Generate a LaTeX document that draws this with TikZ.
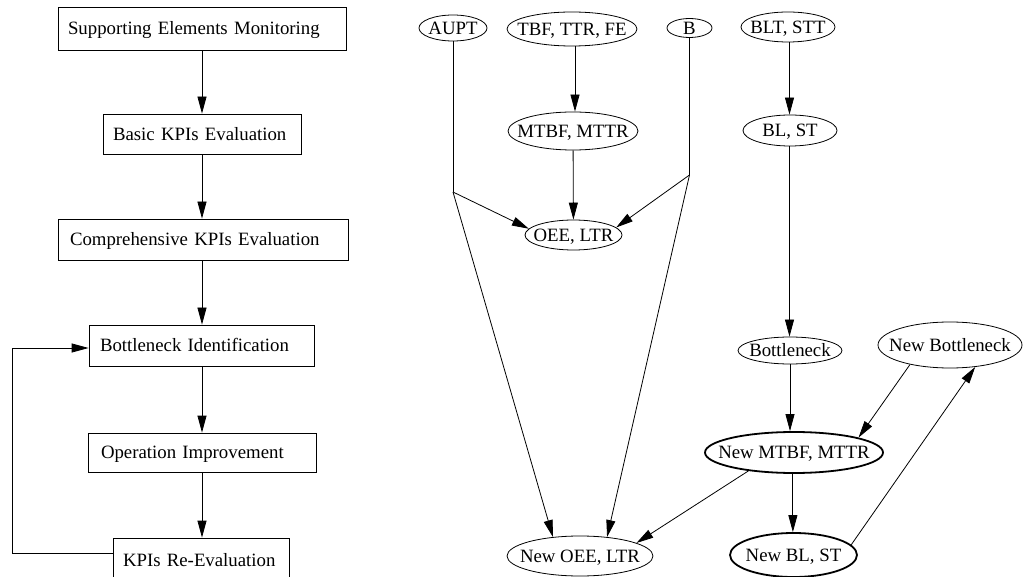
\documentclass[tikz,border=0pt]{standalone}
\usepackage{fontspec}
\setmainfont{Liberation Serif}
\usetikzlibrary{arrows.meta,shapes.geometric}
\begin{document}
\begin{tikzpicture}[x=1pt,y=-1pt,
  every node/.style={font=\fontsize{18.8}{22}\selectfont},
  ln/.style={line width=0.8pt},
  arr/.style={ln,-{Triangle[length=17pt,width=9pt]}},
  stepbox/.style n args={3}{draw,ln,rectangle,minimum height=#1pt,text width=#2pt,
    inner xsep=#3pt,inner ysep=0pt,align=left,text height=12.5pt,text depth=0pt},
  ell/.style 2 args={draw,ln,ellipse,inner sep=0pt,minimum width=#1pt,minimum height=#2pt},
  lbl/.style={inner sep=0pt,text height=12.5pt,text depth=0pt},
  thk/.style={line width=1.8pt}]
\useasboundingbox (0,0) rectangle (1026,577);

% ---------- left flow ----------
\node[stepbox={43}{268}{10}] (sem)   at (202,28.5)  {Supporting Elements Monitoring};
\node[stepbox={40}{178}{10}] (basic) at (202,134)   {Basic KPIs Evaluation};
\node[stepbox={41}{266}{12}] (comp)  at (203,239.5) {Comprehensive KPIs Evaluation};
\node[stepbox={41}{203}{11}] (bott)  at (201.5,345.5) {Bottleneck Identification};
\node[stepbox={39}{202}{13}] (oper)  at (202,452.5) {Operation Improvement};
\node[stepbox={44}{156}{10}] (kpis)  at (201,560)   {KPIs Re-Evaluation};

\coordinate (lx) at (202,0);
\draw[arr] (sem.south -| lx)   -- (basic.north -| lx);
\draw[arr] (basic.south -| lx) -- (comp.north -| lx);
\draw[arr] (comp.south -| lx)  -- (bott.north -| lx);
\draw[arr] (bott.south -| lx)  -- (oper.north -| lx);
\draw[arr] (oper.south -| lx)  -- (kpis.north -| lx);

\coordinate (fb1) at (12,553);
\coordinate (fb2) at (12,348);
\draw[arr] (kpis.west |- fb1) -- (fb1) -- (fb2) -- (bott.west |- fb2);

% ---------- right graph ----------
\node[ell={68}{26}]  (aupt) at (453,28) {};
\node[lbl] (aupt-t) at (aupt) {AUPT};
\node[ell={130}{34}] (tbf) at (572,29) {};
\node[lbl] (tbf-t) at (tbf) {TBF, TTR, FE};
\node[ell={45}{19}]  (bb) at (689.5,28) {};
\node[lbl] (bb-t) at (bb) {B};
\node[ell={94}{30}]  (blt) at (788,27) {};
\node[lbl] (blt-t) at (blt) {BLT, STT};

\node[ell={130}{38}] (mtbf) at (573,131) {};
\node[lbl] (mtbf-t) at (mtbf) {MTBF, MTTR};
\node[ell={94}{31}]  (blst) at (790,130.5) {};
\node[lbl] (blst-t) at (blst) {BL, ST};

\node[ell={97}{30}]  (oee) at (573.5,235) {};
\node[lbl] (oee-t) at (oee) {OEE, LTR};

\node[ell={104}{27}] (bneck) at (790,350.5) {};
\node[lbl] (bneck-t) at (bneck) {Bottleneck};
\node[ell={144}{46}] (nbneck) at (950,345) {};
\node[lbl] (nbneck-t) at (nbneck) {New Bottleneck};

\node[ell={178}{41},thk] (nmtbf) at (794,452.5) {};
\node[lbl] (nmtbf-t) at (nmtbf) {New MTBF, MTTR};

\node[ell={146}{40}] (noee) at (580,556) {};
\node[lbl] (noee-t) at (noee) {New OEE, LTR};
\node[ell={127}{44},thk] (nblst) at (793.5,555) {};
\node[lbl] (nblst-t) at (nblst) {New BL, ST};

\coordinate (as) at (453,192);
\coordinate (bs) at (689.5,175);
\coordinate (mx) at (575,0);
\coordinate (rx) at (789.5,0);
\draw[ln]  (aupt) -- (as);
\draw[arr] (as) -- (oee.172);
\draw[arr] (as) -- (noee.145);
\draw[ln]  (bb) -- (bs);
\draw[arr] (bs) -- (oee.10);
\draw[arr] (bs) -- (noee.35);
\draw[arr] (tbf.south -| mx) -- (mtbf.north -| mx);
\draw[arr] (mtbf) -- (oee);
\draw[arr] (blt.south -| rx) -- (blst.north -| rx);
\draw[arr] (blst.south -| rx) -- (bneck.north -| rx);
\draw[arr] (bneck) -- (bneck |- nmtbf.north);
\draw[arr] (nbneck.206) -- (nmtbf.13);
\draw[arr] (nmtbf.202.5) -- (noee.13);
\draw[arr] (nmtbf.-93) -- (nmtbf.-93 |- nblst.north);
\draw[arr] (nblst.10) -- (nbneck.-41);
\end{tikzpicture}
\end{document}
